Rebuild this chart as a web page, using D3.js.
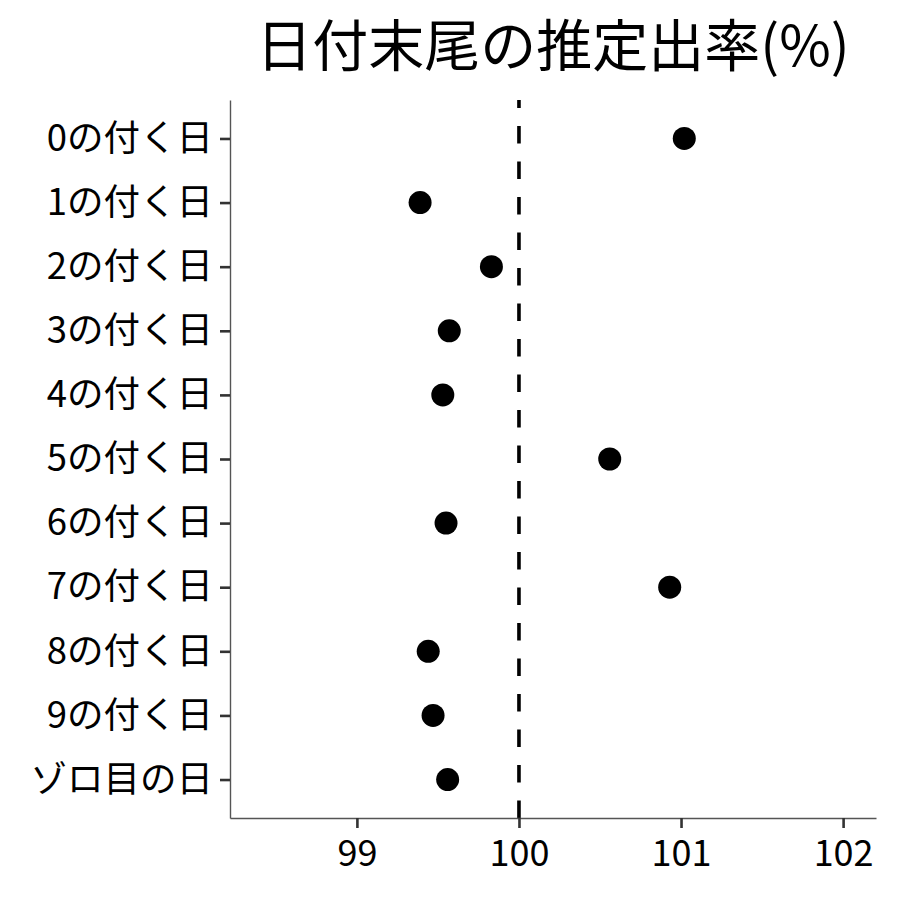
<!DOCTYPE html>
<html>
<head>
<meta charset="utf-8">
<script src="https://cdn.jsdelivr.net/npm/d3@7"></script>
<style>
  body { margin: 0; background: #fff; }
  text { font-family: "Noto Sans CJK JP", "Noto Sans", sans-serif; }
</style>
</head>
<body>
<script>
// categories and estimated rates
var categories = ["0の付く日", "1の付く日", "2の付く日", "3の付く日", "4の付く日",
                  "5の付く日", "6の付く日", "7の付く日", "8の付く日", "9の付く日", "ゾロ目の日"];
var rates = [101.02, 99.39, 99.83, 99.57, 99.53, 100.56, 99.55, 100.93, 99.44, 99.47, 99.56];
var xTicks = [99, 100, 101, 102];
var refValue = 100;
var title = "日付末尾の推定出率(%)";

var data = categories.map(function(c, i) { return { name: c, value: rates[i] }; });

var margin = {top: 100, right: 24, bottom: 82, left: 230},
    width = 900 - margin.left - margin.right,
    height = 900 - margin.top - margin.bottom;

var svg = d3.select("body").append("svg")
    .attr("width", 900)
    .attr("height", 900);

var g = svg.append("g")
    .attr("transform", "translate(" + margin.left + "," + margin.top + ")");

var x = d3.scaleLinear()
    .domain([98.217, 102.203])
    .range([0, width]);

var y = d3.scalePoint()
    .domain(categories)
    .range([0, height])
    .padding(0.6);

// reference line at 100
g.append("line")
    .attr("x1", x(refValue)).attr("x2", x(refValue))
    .attr("y1", 0).attr("y2", height)
    .attr("stroke", "#000")
    .attr("stroke-width", 3.6)
    .attr("stroke-dasharray", "17.5,18")
    .attr("stroke-dashoffset", 9.5);

// points
g.selectAll("circle.pt")
    .data(data)
    .enter()
    .append("circle")
    .attr("class", "pt")
    .attr("cx", function(d) { return x(d.value); })
    .attr("cy", function(d) { return y(d.name); })
    .attr("r", 11.5)
    .attr("fill", "#000");

// x axis
var xAxis = g.append("g")
    .attr("transform", "translate(0," + height + ")")
    .call(d3.axisBottom(x).tickValues(xTicks).tickSize(10).tickSizeOuter(0)
          .tickPadding(12).tickFormat(d3.format("d")));
xAxis.select(".domain").attr("stroke", "#555").attr("stroke-width", 1.4);
xAxis.selectAll(".tick line").attr("stroke", "#333").attr("stroke-width", 2.6);
xAxis.selectAll("text")
    .attr("fill", "#000")
    .style("font-size", "36px");

// y axis
var yAxis = g.append("g")
    .call(d3.axisLeft(y).tickSize(10).tickSizeOuter(0).tickPadding(7));
yAxis.select(".domain").attr("stroke", "#555").attr("stroke-width", 1.4);
yAxis.selectAll(".tick line").attr("stroke", "#333").attr("stroke-width", 2.6);
yAxis.selectAll("text")
    .attr("fill", "#000")
    .style("font-size", "36.5px");

// title
svg.append("text")
    .attr("x", margin.left + width / 2)
    .attr("y", 66)
    .attr("text-anchor", "middle")
    .attr("fill", "#000")
    .style("font-size", "56px")
    .text(title);
</script>
</body>
</html>
